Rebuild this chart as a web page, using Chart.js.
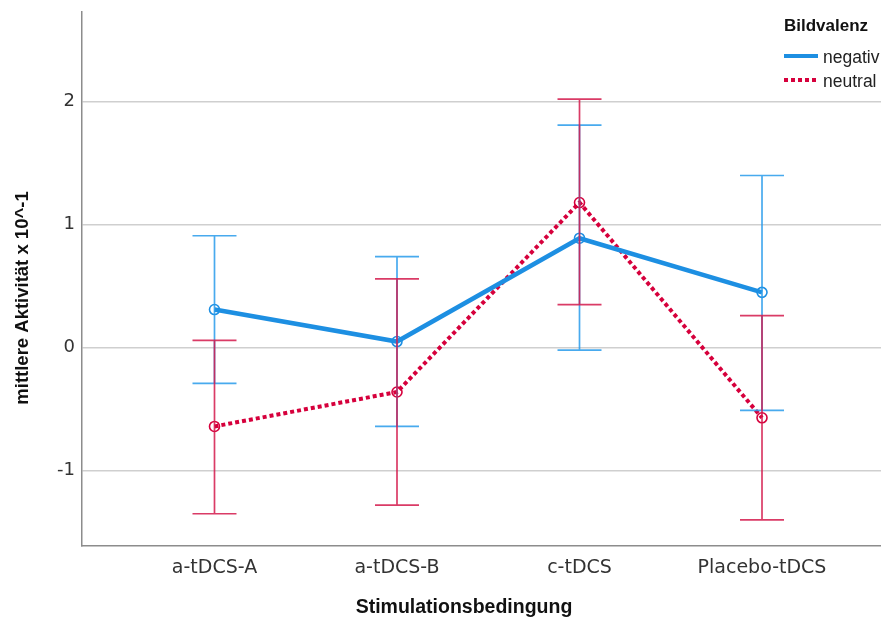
<!DOCTYPE html>
<html>
<head>
<meta charset="utf-8">
<script src="https://cdn.jsdelivr.net/npm/chart.js@4"></script>
<style>
html,body{margin:0;padding:0;background:#fff;}
#wrap{width:881px;height:620px;position:relative;}
</style>
</head>
<body>
<div id="wrap"><canvas id="c" width="881" height="620"></canvas></div>
<script>
// ---- data ----
const categories = ['a-tDCS-A', 'a-tDCS-B', 'c-tDCS', 'Placebo-tDCS'];
const negMean = [0.31, 0.05, 0.89, 0.45];
const negLow  = [-0.29, -0.64, -0.02, -0.51];
const negHigh = [0.91, 0.74, 1.81, 1.40];
const neuMean = [-0.64, -0.36, 1.18, -0.57];
const neuLow  = [-1.35, -1.28, 0.35, -1.40];
const neuHigh = [0.06, 0.56, 2.02, 0.26];
const yTicks = [-1, 0, 1, 2];
const seriesNames = ['negativ', 'neutral'];
const legendTitle = 'Bildvalenz';
const xTitle = 'Stimulationsbedingung';
const yTitle = 'mittlere Aktivität x 10^-1';

const BLUE = 'rgb(29,143,226)';
const RED = 'rgb(214,0,60)';
const BLUE_EB = 'rgba(40,155,235,0.85)';
const RED_EB = 'rgba(212,25,75,0.85)';

const toPts = arr => arr.map((v, i) => ({x: i, y: v}));

const errorBars = {
  id: 'errorBars',
  afterDatasetsDraw(chart) {
    const {ctx, scales: {x, y}} = chart;
    const sets = [
      {lo: negLow, hi: negHigh, color: BLUE_EB},
      {lo: neuLow, hi: neuHigh, color: RED_EB}
    ];
    ctx.save();
    ctx.lineWidth = 1.7;
    sets.forEach(s => {
      ctx.strokeStyle = s.color;
      s.lo.forEach((lo, i) => {
        const px = x.getPixelForValue(i);
        const y1 = y.getPixelForValue(lo);
        const y2 = y.getPixelForValue(s.hi[i]);
        const hw = 22;
        ctx.beginPath();
        ctx.moveTo(px, y1); ctx.lineTo(px, y2);
        ctx.moveTo(px - hw, y1); ctx.lineTo(px + hw, y1);
        ctx.moveTo(px - hw, y2); ctx.lineTo(px + hw, y2);
        ctx.stroke();
      });
    });
    ctx.restore();
  }
};

const titlesAndLegend = {
  id: 'titlesAndLegend',
  afterDraw(chart) {
    const ctx = chart.ctx;
    ctx.save();
    ctx.fillStyle = '#111';
    // x title
    ctx.font = 'bold 19.5px "Liberation Sans", Arial, sans-serif';
    ctx.textAlign = 'center';
    ctx.textBaseline = 'middle';
    ctx.fillText(xTitle, 464, 608);
    // y title
    ctx.save();
    ctx.translate(23, 298);
    ctx.rotate(-Math.PI / 2);
    ctx.font = 'bold 18.5px "Liberation Sans", Arial, sans-serif';
    ctx.fillText(yTitle, 0, 0);
    ctx.restore();
    // legend
    ctx.textAlign = 'left';
    ctx.font = 'bold 17px "Liberation Sans", Arial, sans-serif';
    ctx.fillText(legendTitle, 784, 26);
    ctx.font = '17.5px "Liberation Sans", Arial, sans-serif';
    ctx.fillStyle = '#222';
    const items = [
      {name: seriesNames[0], color: BLUE, dash: [], y: 56},
      {name: seriesNames[1], color: RED, dash: [4, 3], y: 80}
    ];
    items.forEach(it => {
      ctx.save();
      ctx.strokeStyle = it.color;
      ctx.lineWidth = 4;
      ctx.lineCap = 'butt';
      ctx.setLineDash(it.dash);
      ctx.beginPath();
      ctx.moveTo(784, it.y); ctx.lineTo(818, it.y);
      ctx.stroke();
      ctx.restore();
      ctx.fillText(it.name, 823, it.y + 2);
    });
    ctx.restore();
  }
};

new Chart(document.getElementById('c'), {
  type: 'line',
  data: {
    datasets: [
      {
        label: seriesNames[0],
        data: toPts(negMean),
        borderColor: BLUE,
        borderWidth: 4.5,
        pointRadius: 5,
        pointBorderWidth: 1.6,
        pointBackgroundColor: 'rgba(255,255,255,0)',
        pointBorderColor: BLUE,
        tension: 0,
        fill: false
      },
      {
        label: seriesNames[1],
        data: toPts(neuMean),
        borderColor: RED,
        borderWidth: 4,
        borderDash: [4, 3],
        borderCapStyle: 'butt',
        pointRadius: 5,
        pointBorderWidth: 1.6,
        pointBackgroundColor: 'rgba(255,255,255,0)',
        pointBorderColor: RED,
        tension: 0,
        fill: false
      }
    ]
  },
  options: {
    responsive: false,
    animation: false,
    events: [],
    layout: {autoPadding: false, padding: {top: 12, right: 0, left: 0, bottom: 0}},
    plugins: {legend: {display: false}, tooltip: {enabled: false}},
    scales: {
      x: {
        type: 'linear',
        min: -0.726,
        max: 3.652,
        afterBuildTicks: s => { s.ticks = categories.map((c, i) => ({value: i})); },
        afterFit: s => { s.height = 74; s.paddingLeft = 0; s.paddingRight = 0; },
        grid: {display: false, drawTicks: false},
        border: {display: true, color: '#8c8c8c', width: 1.5},
        ticks: {
          autoSkip: false,
          maxRotation: 0,
          padding: 11,
          color: '#333',
          font: {family: '"DejaVu Sans", Verdana, sans-serif', size: 19},
          callback: v => categories[v]
        }
      },
      y: {
        type: 'linear',
        min: -1.612,
        max: 2.729,
        afterBuildTicks: s => { s.ticks = yTicks.map(v => ({value: v})); },
        afterFit: s => { s.width = 82; s.paddingTop = 0; s.paddingBottom = 0; },
        grid: {color: '#cfcfcf', lineWidth: 1.5, drawTicks: false},
        border: {display: true, color: '#8c8c8c', width: 1.5},
        ticks: {
          padding: 7,
          color: '#333',
          font: {family: '"DejaVu Sans", Verdana, sans-serif', size: 18},
          callback: v => String(v)
        }
      }
    }
  },
  plugins: [errorBars, titlesAndLegend]
});
</script>
</body>
</html>
